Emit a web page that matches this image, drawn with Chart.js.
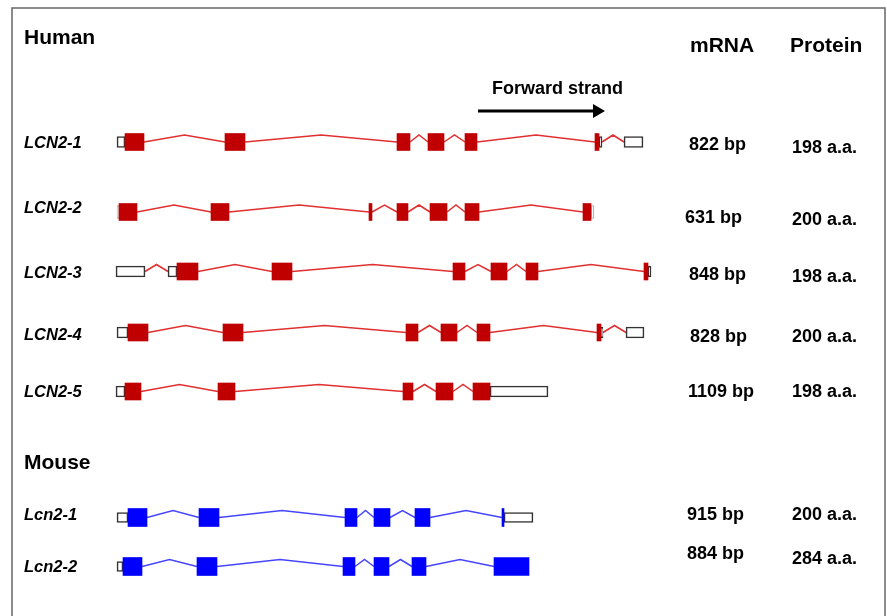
<!DOCTYPE html>
<html>
<head>
<meta charset="utf-8">
<script src="https://cdn.jsdelivr.net/npm/chart.js@4.4.1/dist/chart.umd.min.js"></script>
<style>
  html, body { margin: 0; padding: 0; background: #fff; }
  #wrap { width: 887px; height: 616px; }
</style>
</head>
<body>
<div id="wrap"><canvas id="genes" width="887" height="616"></canvas></div>
<script>
// transcripts, top to bottom
const transcripts = ['LCN2-1', 'LCN2-2', 'LCN2-3', 'LCN2-4', 'LCN2-5', 'Lcn2-1', 'Lcn2-2'];
const species = ['human', 'human', 'human', 'human', 'human', 'mouse', 'mouse'];
const mrnaLength = ['822 bp', '631 bp', '848 bp', '828 bp', '1109 bp', '915 bp', '884 bp'];
const proteinLength = ['198 a.a.', '200 a.a.', '198 a.a.', '200 a.a.', '198 a.a.', '200 a.a.', '284 a.a.'];

// exon blocks [start, end] along the locus
const codingExons = [
  [[125, 144], [225, 245], [397, 410], [428, 444], [465, 477], [595, 599]],
  [[119, 137], [211, 229], [369, 372], [397, 408], [430, 447], [465, 479], [583, 591]],
  [[177, 198], [272, 292], [453, 465], [491, 507], [526, 538], [644, 648]],
  [[128, 148], [223, 243], [406, 418], [441, 457], [477, 490], [597, 601]],
  [[125, 141], [218, 235], [403, 413], [436, 453], [473, 490]],
  [[128, 147], [199, 219], [345, 357], [374, 390], [415, 430], [502, 504]],
  [[123, 142], [197, 217], [343, 355], [374, 389], [412, 426], [494, 529]]
];
const utrExons = [
  [[117, 125], [599, 602], [624, 643]],
  [],
  [[116, 145], [168, 177], [648, 651]],
  [[117, 128], [601, 603], [626, 644]],
  [[116, 125], [490, 548]],
  [[117, 128], [504, 533]],
  [[117, 123]]
];
// faint outlined blocks (LCN2-2 only)
const otherExons = [[], [[117, 119], [591, 594]], [], [], [], [], []];

// layout
const rowY = [142, 212, 271.5, 332.5, 391.5, 517.5, 566.5];
const labelY = [143, 208, 273, 335, 392, 515, 567];
const mrnaX = [689, 685, 689, 690, 688, 687, 687];
const mrnaY = [145, 218, 275, 337, 392, 515, 554];
const proteinY = [148, 220, 277, 337, 392, 515, 559];
const arrowX = [478, 597];
const arrowY = 111;
const chevron = 7;

const palette = {
  human: { exon: '#C00000', intron: '#E03030', cdsH: 17, utrH: 11 },
  mouse: { exon: '#0000FF', intron: '#4646FF', cdsH: 18, utrH: 10 }
};

const datasets = [];
transcripts.forEach((name, i) => {
  const col = palette[species[i]];
  const y = rowY[i];
  const blocks = codingExons[i].concat(utrExons[i], otherExons[i]).sort((a, b) => a[0] - b[0]);
  const pts = [];
  for (let k = 1; k < blocks.length; k++) {
    const a = blocks[k - 1][1], b = blocks[k][0];
    if (b - a < 1) continue;
    // intron glyph: a chevron between the two exons
    pts.push({ x: a, y: y }, { x: (a + b) / 2, y: y - chevron }, { x: b, y: y }, { x: b, y: null });
  }
  datasets.push({
    type: 'line', label: name + ' introns', data: pts,
    borderColor: col.intron, borderWidth: 1.5, pointRadius: 0, tension: 0,
    spanGaps: false, order: 4
  });
  const bar = (list, opts) => Object.assign({
    type: 'bar', indexAxis: 'y', grouped: false,
    data: list.map(e => ({ x: e, y: y })),
    categoryPercentage: 1, barPercentage: 1, borderSkipped: false, order: 2
  }, opts);
  datasets.push(bar(otherExons[i], { backgroundColor: '#fff', borderColor: '#aaa', borderWidth: 1.2, maxBarThickness: 13, order: 3 }));
  datasets.push(bar(utrExons[i], { backgroundColor: '#fff', borderColor: '#333', borderWidth: 1.6, maxBarThickness: col.utrH, order: 3 }));
  datasets.push(bar(codingExons[i], { backgroundColor: col.exon, borderWidth: 0, maxBarThickness: col.cdsH, order: 1 }));
});

// forward strand arrow
datasets.push({
  type: 'line', data: arrowX.map(x => ({ x: x, y: arrowY })),
  borderColor: '#000', borderWidth: 3, tension: 0,
  pointRadius: [0, 8], pointStyle: 'triangle', pointRotation: 90,
  pointBackgroundColor: '#000', pointBorderWidth: 0, order: 0
});

const FONT = '"Liberation Sans", Arial, sans-serif';
const headings = [
  { text: 'Human', x: 24, y: 38, size: 21 },
  { text: 'mRNA', x: 690, y: 46, size: 21 },
  { text: 'Protein', x: 790, y: 46, size: 21 },
  { text: 'Forward strand', x: 492, y: 89, size: 18 },
  { text: 'Mouse', x: 24, y: 463, size: 21 }
];

const textPlugin = {
  id: 'texts',
  beforeDraw(chart) {
    const ctx = chart.ctx;
    ctx.save();
    ctx.strokeStyle = '#666';
    ctx.lineWidth = 1.5;
    ctx.strokeRect(12, 8, 873, 640);
    ctx.restore();
  },
  afterDraw(chart) {
    const ctx = chart.ctx;
    const sx = chart.scales.x, sy = chart.scales.y;
    ctx.save();
    ctx.fillStyle = '#000';
    ctx.textBaseline = 'middle';
    ctx.textAlign = 'left';
    headings.forEach(h => {
      ctx.font = 'bold ' + h.size + 'px ' + FONT;
      ctx.fillText(h.text, sx.getPixelForValue(h.x), sy.getPixelForValue(h.y));
    });
    transcripts.forEach((name, i) => {
      ctx.font = 'italic bold 16.5px ' + FONT;
      ctx.fillText(name, sx.getPixelForValue(24), sy.getPixelForValue(labelY[i]));
      ctx.font = 'bold 18px ' + FONT;
      ctx.fillText(mrnaLength[i], sx.getPixelForValue(mrnaX[i]), sy.getPixelForValue(mrnaY[i]));
      ctx.fillText(proteinLength[i], sx.getPixelForValue(792), sy.getPixelForValue(proteinY[i]));
    });
    ctx.restore();
  }
};

new Chart(document.getElementById('genes'), {
  type: 'line',
  data: { datasets: datasets },
  options: {
    responsive: false,
    animation: false,
    events: [],
    layout: { padding: 0, autoPadding: false },
    plugins: { legend: { display: false }, tooltip: { enabled: false } },
    scales: {
      x: { type: 'linear', min: 0, max: 887, display: false, offset: false },
      y: { type: 'linear', min: 0, max: 616, reverse: true, display: false, offset: false, ticks: { count: 2 } }
    }
  },
  plugins: [textPlugin]
});
</script>
</body>
</html>
